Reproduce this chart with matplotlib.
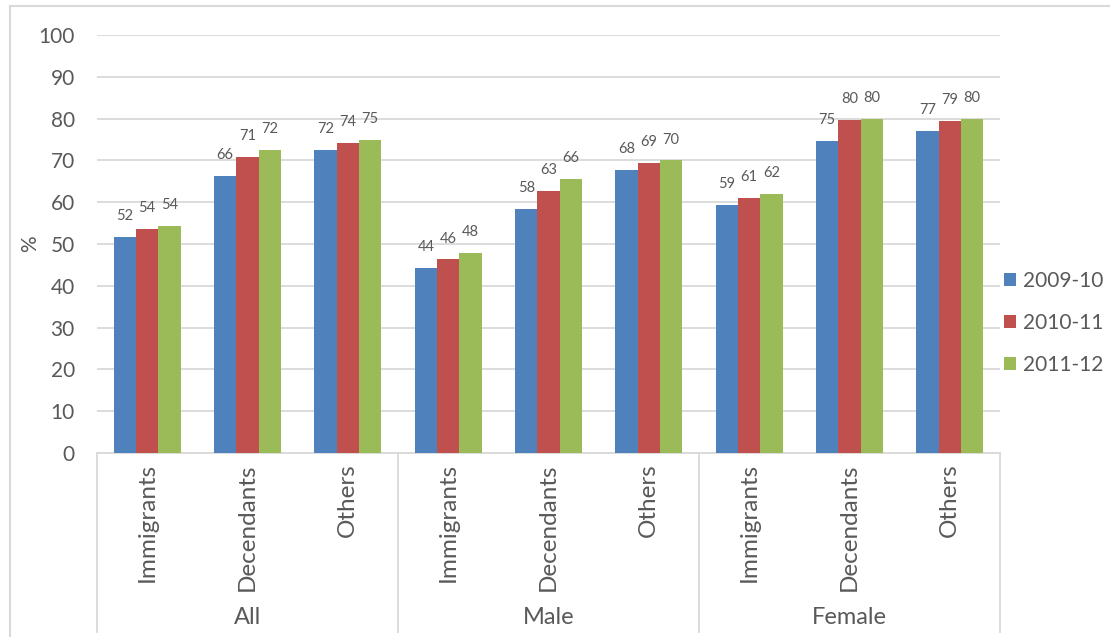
import matplotlib
matplotlib.use("Agg")
import matplotlib.pyplot as plt
from matplotlib.patches import Patch
from matplotlib.lines import Line2D
import numpy as np

groups = ["All", "Male", "Female"]
subcats = ["Immigrants", "Decendants", "Others"]
series_names = ["2009-10", "2010-11", "2011-12"]
v2009 = [51.6, 66.2, 72.4, 44.2, 58.3, 67.8, 59.4, 74.6, 77.0]
v2010 = [53.6, 70.8, 74.2, 46.3, 62.6, 69.4, 61.0, 79.7, 79.4]
v2011 = [54.3, 72.4, 74.8, 47.8, 65.6, 70.0, 61.9, 80.0, 80.0]
yticks = [0, 10, 20, 30, 40, 50, 60, 70, 80, 90, 100]
colors = ["#4F81BD", "#C0504D", "#9BBB59"]

plt.rcParams["font.family"] = ["Lato", "DejaVu Sans"]
TXT = "#595959"
GRID = "#D9D9D9"

fig = plt.figure(figsize=(11.1, 6.37), dpi=100)
W, H = 1110, 637
ax = fig.add_axes([97 / W, 1 - 453 / H, 903 / W, 418 / H])

x = np.arange(len(v2009))
bw = 0.222
for i, (vals, c) in enumerate(zip([v2009, v2010, v2011], colors)):
    xs = x + (i - 1) * bw
    ax.bar(xs, vals, width=bw, color=c, zorder=3, label=series_names[i])
    for xi, v in zip(xs, vals):
        ax.annotate(f"{v:.0f}", (xi, v), xytext=(0, 10), textcoords="offset points",
                    ha="center", va="bottom", fontsize=10.5, color=TXT)

ax.set_xlim(-0.5, len(x) - 0.5)
ax.set_ylim(0, 100)
ax.set_yticks(yticks)
ax.yaxis.grid(True, color=GRID, linewidth=1.3, zorder=0)
ax.tick_params(axis="y", length=0, pad=16, labelsize=15, labelcolor=TXT)
ax.set_xticks([])
for s in ["top", "right", "left"]:
    ax.spines[s].set_visible(False)
ax.spines["bottom"].set_color(GRID)
ax.spines["bottom"].set_linewidth(1.3)
ax.set_ylabel("%", fontsize=15, color=TXT)
ax.yaxis.set_label_coords(-0.063, 0.5)

# multi-level category labels
for xi in x:
    ax.text(xi, -0.024, subcats[xi % 3], transform=ax.get_xaxis_transform(),
            rotation=90, ha="center", va="top", fontsize=17.5, color=TXT)
for gi, g in enumerate(groups):
    ax.text(gi * 3 + 1, -0.394, g, transform=ax.get_xaxis_transform(),
            ha="center", va="center", fontsize=17, color=TXT)
for b in [-0.5, 2.5, 5.5, 8.5]:
    ax.add_line(Line2D([b, b], [0, -0.428], transform=ax.get_xaxis_transform(),
                       color=GRID, linewidth=1.3, clip_on=False))

handles = [Patch(facecolor=c, edgecolor="none") for c in colors]
ax.legend(handles, series_names, loc="center left", bbox_to_anchor=(0.995, 0.311),
          frameon=False, fontsize=15, labelcolor=TXT, handlelength=0.6,
          handleheight=0.6, handletextpad=0.3, labelspacing=1.05, borderaxespad=0)

# outer frame
fig.add_artist(Line2D([10 / W, 10 / W], [0, 1 - 6 / H], transform=fig.transFigure,
                      color=GRID, linewidth=1.5))
fig.add_artist(Line2D([10 / W, 1], [1 - 6 / H, 1 - 6 / H], transform=fig.transFigure,
                      color=GRID, linewidth=1.5))

fig.savefig("out.png", dpi=100)
